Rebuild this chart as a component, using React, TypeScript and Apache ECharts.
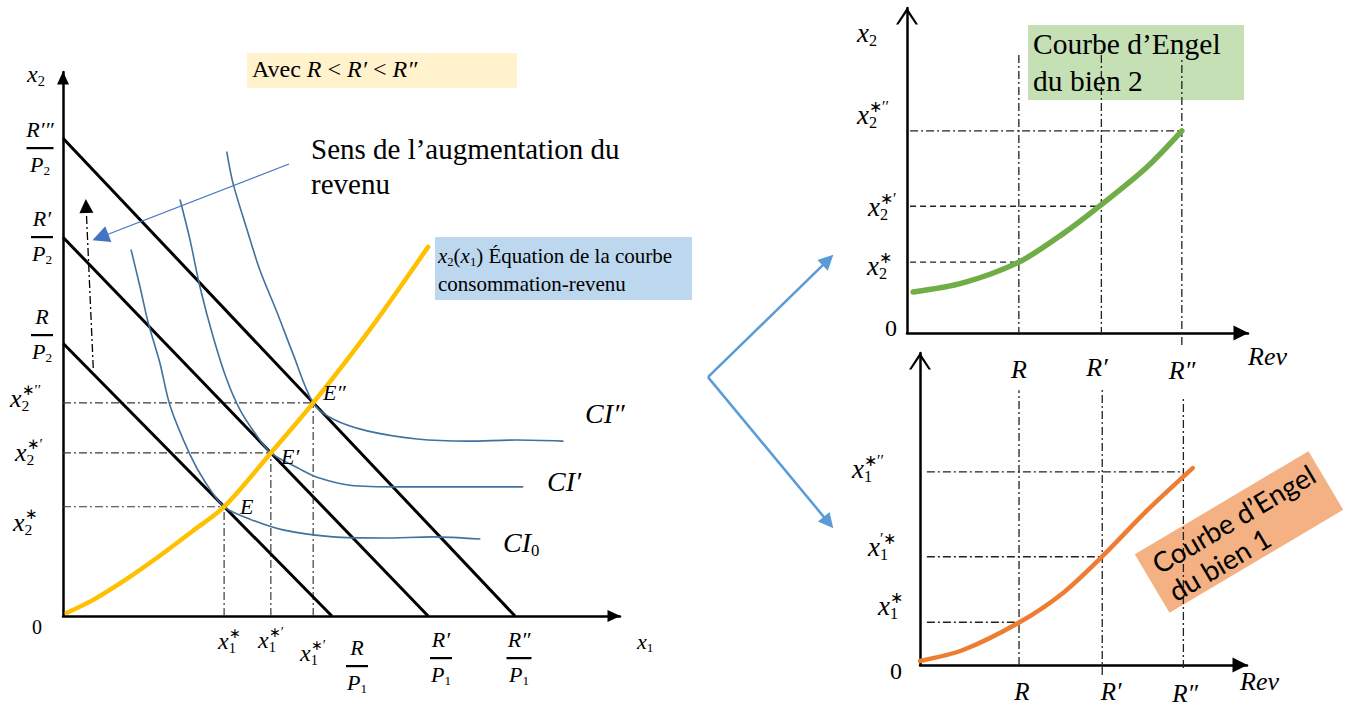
import React, { useEffect, useRef } from 'react';
import * as echarts from 'echarts';

// ---------- Left panel: budget lines, indifference curves (units of x1 / x2) ----------
const budgetX2Intercepts = [5.07, 7.04, 8.88]; // R/P2, R'/P2, R''/P2
const budgetX1Intercepts = [4.89, 6.64, 8.22]; // R/P1, R'/P1, R''/P1
const equilibriumX1 = [2.93, 3.78, 4.55]; // x1*, x1*', x1*''
const equilibriumX2 = [2.03, 3.03, 3.96]; // x2*, x2*', x2*''
const consumptionIncomeCurve = [
  [0.07, 0.06], [0.55, 0.3], [1.16, 0.69], [1.76, 1.12], [2.36, 1.58],
  [2.93, 2.03], [3.78, 3.03], [4.55, 3.96], [5.6, 5.35], [6.64, 6.86],
];
const indifferenceCI0 = [
  [1.24, 6.8], [1.4, 6.12], [1.55, 5.45], [1.76, 4.71], [1.95, 3.9], [2.31, 3.0], [2.58, 2.5],
  [2.93, 2.03], [3.4, 1.8], [4.0, 1.6], [4.91, 1.47], [5.82, 1.45], [6.73, 1.47], [7.58, 1.43],
];
const indifferenceCI1 = [
  [2.13, 7.73], [2.31, 6.99], [2.49, 6.12], [2.73, 5.19], [2.98, 4.39], [3.22, 3.83], [3.49, 3.4],
  [3.78, 3.03], [4.31, 2.73], [4.62, 2.58], [5.22, 2.43], [6.13, 2.4], [7.35, 2.4], [8.36, 2.4],
];
const indifferenceCI2 = [
  [2.98, 8.62], [3.09, 8.05], [3.35, 7.17], [3.58, 6.43], [3.89, 5.65], [4.18, 4.88], [4.55, 3.96],
  [4.91, 3.66], [5.53, 3.44], [6.44, 3.29], [7.35, 3.25], [8.25, 3.27], [9.09, 3.25],
];
const incomeArrow = [[4.11, 8.4], [0.68, 7.04]];
const shiftArrow = [[0.55, 4.61], [0.42, 7.62]];
// connector arrows between the panels (own small coordinate frame)
const linkArrowOrigin = [0.57, 5.43];
const linkArrowTargets = [[9.14, 9.33], [9.18, 0.58]];

// ---------- Engel curves (units of revenue / quantity) ----------
const revenus = [3.28, 5.7, 8.06]; // R, R', R''
const engelBien2 = [[0.18, 1.26], [1.64, 1.54], [3.28, 2.18], [4.57, 3.05], [5.7, 3.95], [7.04, 5.11], [8.06, 6.22]];
const x2Levels = [2.18, 3.9, 6.22];
const engelBien2GuideTop = [8.6, 8.71, 8.49];
const engelBien2GuideBottom = [-0.06, -0.06, -0.37];
const engelBien1 = [[0.4, 0.13], [1.65, 0.48], [3.28, 1.36], [4.56, 2.31], [5.7, 3.48], [7.02, 4.97], [8.33, 6.31]];
const x1Levels = [1.37, 3.47, 6.19];
const engelBien1GuideTop = [8.81, 8.88, 8.59];
const engelBien1GuideBottom = [0, -0.32, -0.1];

const SERIF = "'Liberation Serif', 'Times New Roman', serif";
const SANS = "Lato, 'Noto Sans', sans-serif";
const DASHDOT = [8, 3, 2, 3];
const DASH = [6, 4];

let measureCtx: CanvasRenderingContext2D | null = null;
function tw(text: string, fontSize: number, italic: boolean, family = SERIF) {
  if (!measureCtx) measureCtx = document.createElement('canvas').getContext('2d');
  measureCtx!.font = `${italic ? 'italic ' : ''}${fontSize}px ${family}`;
  return measureCtx!.measureText(text).width;
}

type Part = { t: string; s?: number; dy?: number; it?: boolean; stack?: boolean };
const it = (t: string): Part => ({ t, it: true });
const tx = (t: string): Part => ({ t });
const sub = (t: string): Part => ({ t, s: 0.6, dy: 0.29 });
const sup = (t: string): Part => ({ t, s: 0.58, dy: -0.32, stack: true });

function textEl(t: string, x: number, y: number, fs: number, italic: boolean, family = SERIF, z = 100) {
  return {
    type: 'text', x, y, z, silent: true,
    style: {
      text: t, fontSize: fs, fontFamily: family, fontStyle: italic ? 'italic' : 'normal', fill: '#000',
      textAlign: 'left', textVerticalAlign: 'middle', verticalAlign: 'middle',
    },
  };
}

function label(parts: Part[], x: number, y: number, size: number, align: 'left' | 'center' = 'left') {
  let cursor = 0;
  let lastStart = 0;
  const kids: any[] = [];
  for (const p of parts) {
    const fs = size * (p.s ?? 1);
    const w = tw(p.t, fs, !!p.it);
    let px: number;
    if (p.stack) { px = lastStart; cursor = Math.max(cursor, lastStart + w); }
    else { px = cursor; lastStart = cursor; cursor += w; }
    kids.push(textEl(p.t, px, (p.dy ?? 0) * size, fs, !!p.it));
  }
  const ox = align === 'center' ? -cursor / 2 : 0;
  return { type: 'group', x: x + ox, y, children: kids, silent: true };
}

function frac(num: Part[], den: Part[], cx: number, barY: number, barW: number, size = 22) {
  return [
    label(num, cx, barY - 19, size, 'center'),
    { type: 'rect', z: 100, silent: true, shape: { x: cx - barW / 2, y: barY - 1, width: barW, height: 2.2 }, style: { fill: '#000' } },
    label(den, cx, barY + 16.5, size, 'center'),
  ];
}

function axis(gridIndex: number, min: number, max: number, arrow: string, size: number[], show = true) {
  return {
    type: 'value', gridIndex, min, max, show,
    axisLine: {
      show, onZero: false, lineStyle: { color: '#000', width: 2.5 },
      symbol: ['none', arrow], symbolSize: size, symbolOffset: [0, -size[1] / 2 + 0.5],
    },
    axisTick: { show: false }, axisLabel: { show: false }, splitLine: { show: false },
  };
}

const CHEVRON = 'path://M0,17 L11,0 L22,17 L19.6,17 L11,4.2 L2.4,17 Z';

function curve(data: number[][], xi: number, color: string, width: number, smooth: number, z = 3, dash: any = 'solid') {
  return {
    type: 'line', xAxisIndex: xi, yAxisIndex: xi, data, symbol: 'none', smooth,
    silent: true, clip: false, z,
    lineStyle: { color, width, cap: smooth ? 'round' : 'butt', type: dash }, emphasis: { disabled: true },
  };
}

function arrows(xi: number, lines: number[][][], color: string, width: number, dash: any, size: number, z = 4) {
  return {
    type: 'line', xAxisIndex: xi, yAxisIndex: xi, data: [], symbol: 'none', silent: true, clip: false, z,
    markLine: {
      silent: true, animation: false, symbol: ['none', 'triangle'], symbolSize: size,
      label: { show: false }, emphasis: { disabled: true },
      lineStyle: { color, width, type: dash, cap: 'butt' },
      data: lines.map(([a, b]) => [{ coord: a }, { coord: b }]),
    },
  };
}

function buildOption() {
  const series: any[] = [];
  // left panel guides
  equilibriumX1.forEach((ex, i) => {
    const ey = equilibriumX2[i];
    series.push(curve([[0, ey], [ex, ey]], 0, '#3a3a3a', 1.2, 0, 2, DASHDOT));
    series.push(curve([[ex, 0], [ex, ey]], 0, '#3a3a3a', 1.2, 0, 2, DASHDOT));
  });
  budgetX2Intercepts.forEach((b, i) => {
    series.push(curve([[0, b], [budgetX1Intercepts[i], 0]], 0, '#000', 3, 0));
  });
  [indifferenceCI0, indifferenceCI1, indifferenceCI2].forEach((d) => series.push(curve(d, 0, '#41719C', 1.6, 0.3, 4)));
  series.push(curve(consumptionIncomeCurve, 0, '#FFC000', 4.5, 0.3, 5));
  series.push(arrows(0, [shiftArrow], '#000', 1.3, DASHDOT, 14));
  series.push(arrows(0, [incomeArrow], '#4472C4', 1.2, 'solid', 17));
  series.push(arrows(3, linkArrowTargets.map((t) => [linkArrowOrigin, t]), '#5B9BD5', 2.5, 'solid', 15));

  // top right: Engel curve of good 2
  revenus.forEach((r, i) => {
    series.push(curve([[r, engelBien2GuideBottom[i]], [r, engelBien2GuideTop[i]]], 1, '#222', 1.3, 0, 2, DASHDOT));
  });
  x2Levels.forEach((l, i) => {
    series.push(curve([[0.09, l], [revenus[i], l]], 1, '#222', 1.3, 0, 2, i === 2 ? DASHDOT : DASH));
  });
  series.push(curve(engelBien2, 1, '#70AD47', 5.5, 0.3, 5));

  // bottom right: Engel curve of good 1
  revenus.forEach((r, i) => {
    series.push(curve([[r, engelBien1GuideBottom[i]], [r, engelBien1GuideTop[i]]], 2, '#222', 1.3, 0, 2, DASHDOT));
  });
  x1Levels.forEach((l, i) => {
    series.push(curve([[0.6, l], [revenus[i], l]], 2, '#222', 1.3, 0, 2, DASHDOT));
  });
  series.push(curve(engelBien1, 2, '#ED7D31', 4.5, 0.3, 5));

  // graphics
  const g: any[] = [];
  g.push({ type: 'rect', z: 0, silent: true, shape: { x: 247, y: 53, width: 270, height: 35 }, style: { fill: '#FFF2CC' } });
  g.push(label([tx('Avec '), it('R'), tx(' < '), it('R′'), tx(' < '), it('R″')], 252, 69, 24));
  g.push(textEl('Sens de l’augmentation du', 311, 149, 29, false));
  g.push(textEl('revenu', 311, 184, 29, false));
  g.push({ type: 'rect', z: 0, silent: true, shape: { x: 435, y: 237, width: 257, height: 63 }, style: { fill: '#BDD7EE' } });
  g.push(label([it('x'), sub('2'), tx('('), it('x'), sub('1'), tx(') Équation de la courbe')], 438, 256, 21));
  g.push(textEl('consommation-revenu', 438, 284, 21, false));
  g.push({ type: 'rect', z: 0, silent: true, shape: { x: 1028, y: 25, width: 216, height: 75 }, style: { fill: '#C5E0B4' } });
  g.push(textEl('Courbe d’Engel', 1033, 44, 29.5, false));
  g.push(textEl('du bien 2', 1033, 81, 29.5, false));
  const ofs = (26 * 184) / tw('Courbe d’Engel', 26, false, SANS);
  g.push({
    type: 'group', x: 1239, y: 532, rotation: 0.536, silent: true,
    children: [
      { type: 'rect', z: 1, shape: { x: -101, y: -34, width: 202, height: 68 }, style: { fill: '#F4B183' } },
      textEl('Courbe d’Engel', -90, -14, ofs, false, SANS),
      textEl('du bien 1', -90, 18, ofs, false, SANS),
    ],
  });

  // left labels
  g.push(label([it('x'), sub('2')], 27, 74, 24));
  g.push(...frac([it('R′″')], [it('P'), sub('2')], 40, 148, 27));
  g.push(...frac([it('R′')], [it('P'), sub('2')], 42, 237, 22));
  g.push(...frac([it('R')], [it('P'), sub('2')], 42, 335, 22));
  g.push(label([it('x'), sub('2'), sup('∗′′')], 10, 398, 26));
  g.push(label([it('x'), sub('2'), sup('∗′')], 15, 452, 26));
  g.push(label([it('x'), sub('2'), sup('∗')], 13, 522, 26));
  g.push(label([tx('0')], 32, 627, 20));
  g.push(label([it('x'), sub('1')], 637, 641, 22));
  g.push(label([it('x'), sub('1'), sup('∗')], 218, 641, 24));
  g.push(label([it('x'), sub('1'), sup('∗′')], 258, 640, 24));
  g.push(label([it('x'), sub('1'), sup('∗′')], 300, 653, 24));
  g.push(...frac([it('R')], [it('P'), sub('1')], 357, 666, 22));
  g.push(...frac([it('R′')], [it('P'), sub('1')], 441, 658, 22));
  g.push(...frac([it('R″')], [it('P'), sub('1')], 519, 658, 25));
  g.push(label([it('E')], 240, 506, 22));
  g.push(label([it('E′')], 281, 456, 22));
  g.push(label([it('E″')], 323, 392, 22));
  g.push(label([it('CI″')], 585, 413, 28));
  g.push(label([it('CI′')], 547, 481, 28));
  g.push(label([it('CI'), sub('0')], 503, 542, 28));

  // top-right labels
  g.push(label([it('x'), sub('2')], 857, 33, 27));
  g.push(label([it('x'), sub('2'), sup('∗′′')], 857, 115, 27));
  g.push(label([it('x'), sub('2'), sup('∗′')], 868, 207, 27));
  g.push(label([it('x'), sub('2'), sup('∗')], 867, 266, 27));
  g.push(label([tx('0')], 885, 328, 24));
  g.push(label([it('R')], 1019, 369, 26, 'center'));
  g.push(label([it('R′')], 1097, 367, 26, 'center'));
  g.push(label([it('R″')], 1182, 370, 26, 'center'));
  g.push(label([it('Rev')], 1248, 356, 26));

  // bottom-right labels
  g.push(label([it('x'), sub('1'), sup('∗′′')], 852, 469, 27));
  g.push(label([it('x'), sub('1'), sup('′∗')], 868, 547, 27));
  g.push(label([it('x'), sub('1'), sup('∗')], 878, 606, 27));
  g.push(label([tx('0')], 890, 671, 24));
  g.push(label([it('R')], 1022, 691, 25, 'center'));
  g.push(label([it('R′')], 1111, 691, 25, 'center'));
  g.push(label([it('R″')], 1185, 693, 25, 'center'));
  g.push(label([it('Rev')], 1240, 681, 26));

  return {
    animation: false,
    backgroundColor: '#ffffff',
    grid: [
      { left: 63, top: 72, width: 557, height: 544, outerBoundsMode: 'none' },
      { left: 907, top: 8, width: 341, height: 325, outerBoundsMode: 'none' },
      { left: 920, top: 353, width: 327, height: 312, outerBoundsMode: 'none' },
      { left: 700, top: 240, width: 140, height: 300, outerBoundsMode: 'none' },
    ],
    xAxis: [
      axis(0, 0, 10.13, 'triangle', [12, 13]),
      axis(1, 0, 10, 'triangle', [15, 15]),
      axis(2, 0.4, 9.91, 'triangle', [15, 15]),
      axis(3, 0, 10, 'none', [0, 0], false),
    ],
    yAxis: [
      axis(0, 0, 10.11, 'triangle', [12, 13]),
      axis(1, 0, 10, CHEVRON, [22, 17]),
      axis(2, 0, 10, CHEVRON, [22, 17]),
      axis(3, 0, 10, 'none', [0, 0], false),
    ],
    series,
    graphic: { elements: g },
  };
}

export default function App() {
  const ref = useRef<HTMLDivElement>(null);
  useEffect(() => {
    if (!ref.current) return;
    const chart = echarts.init(ref.current, undefined, { renderer: 'svg' });
    chart.setOption(buildOption() as any);
    return () => chart.dispose();
  }, []);
  return (
    <div
      ref={ref}
      style={{ position: 'absolute', left: 0, top: 0, width: 1346, height: 707, background: '#fff' }}
    />
  );
}
